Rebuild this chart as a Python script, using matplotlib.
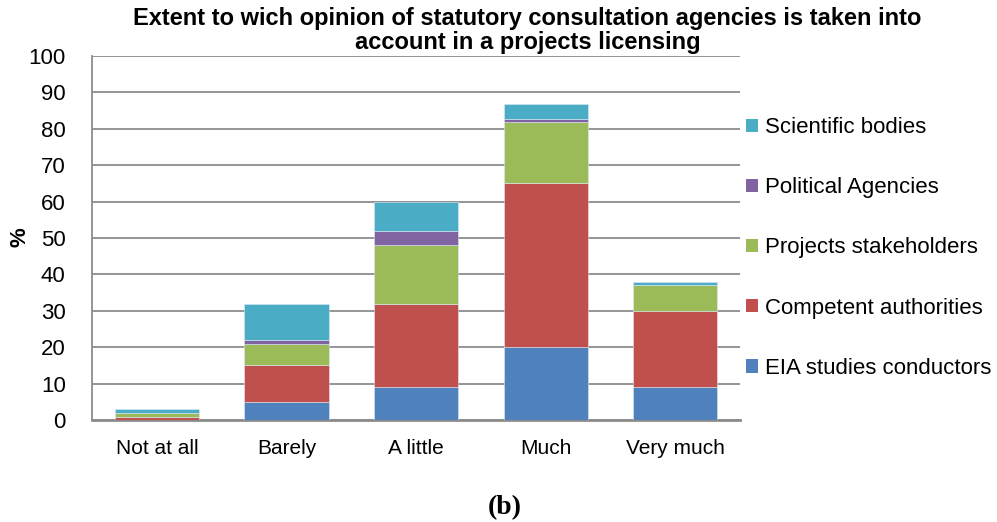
import matplotlib
matplotlib.use("Agg")
import matplotlib.pyplot as plt
from matplotlib.patches import Patch
import numpy as np

categories = ["Not at all", "Barely", "A little", "Much", "Very much"]
series_names = ["EIA studies conductors", "Competent authorities",
                "Projects stakeholders", "Political Agencies", "Scientific bodies"]
eia = [0, 5, 9, 20, 9]
competent = [0.8, 10, 23, 45, 21]
stakeholders = [1.2, 6, 16, 17, 7]
political = [0, 1, 4, 0.8, 0]
scientific = [1, 10, 8, 4, 1]
colors = ["#4F81BD", "#C0504D", "#9BBB59", "#8064A2", "#4BACC6"]
yticks = list(range(0, 101, 10))

fig = plt.figure(figsize=(9.97, 5.22), dpi=100)
ax = fig.add_axes([0.0923, 0.1954, 0.6500, 0.6973])

x = np.arange(len(categories))
bottom = np.zeros(len(categories))
handles = []
for name, vals, c in zip(series_names, [eia, competent, stakeholders, political, scientific], colors):
    ax.bar(x, vals, width=0.65, bottom=bottom, color=c, edgecolor="#dfe8f3", linewidth=0.4, zorder=3)
    bottom += np.array(vals)
    handles.append(Patch(facecolor=c, label=name))

ax.set_xlim(-0.5, len(categories) - 0.5)
ax.set_ylim(0, 100)
ax.set_yticks(yticks)
ax.yaxis.grid(True, color="#8c8c8c", linewidth=1.3, zorder=0)
ax.set_axisbelow(True)
for s in ["top", "right"]:
    ax.spines[s].set_visible(False)
ax.spines["left"].set_color("#8c8c8c")
ax.spines["left"].set_linewidth(1.3)
ax.spines["bottom"].set_color("#8c8c8c")
ax.spines["bottom"].set_linewidth(2)
ax.tick_params(axis="x", length=0, labelsize=15, pad=14)
ax.tick_params(axis="y", length=0, labelsize=16, pad=19)
ax.set_xticks(x)
ax.set_xticklabels(categories, fontfamily="Liberation Sans")
for lab in ax.get_yticklabels():
    lab.set_fontfamily("Liberation Sans")

fig.text(0.010, 0.545, "%", rotation=90, fontsize=16, fontweight="bold",
         fontfamily="Liberation Sans", ha="left", va="center")

fig.text(0.529, 1 - 7 / 522, "Extent to wich opinion of statutory consultation agencies is taken into\naccount in a projects licensing",
         ha="center", va="top", fontsize=17, fontweight="bold", fontfamily="Liberation Sans",
         linespacing=1.07)

leg = fig.legend(handles=handles[::-1], loc="center left", bbox_to_anchor=(0.748, 0.525),
                 frameon=False, handlelength=0.55, handleheight=0.55, handletextpad=0.3,
                 borderpad=0, borderaxespad=0,
                 labelspacing=1.76, prop={"family": "Liberation Sans", "size": 16})

fig.text(0.506, 1 - 508 / 522, "(b)", ha="center", va="center", fontsize=20,
         fontweight="bold", fontfamily="Liberation Serif")

fig.savefig("out.png", dpi=100)
